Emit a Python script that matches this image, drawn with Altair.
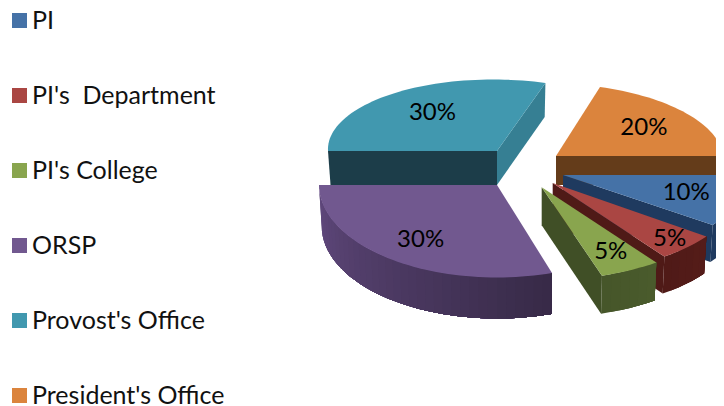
import math
import altair as alt

# ---- data ----
categories = ["PI", "PI's \u00a0Department", "PI's College", "ORSP", "Provost's Office", "President's Office"]
shares = [10, 5, 5, 30, 30, 20]
top_colors = ["#4572A7", "#AA4643", "#89A54E", "#71588F", "#4198AF", "#DB843D"]

# ---- 3-D look of each slice (page pixels): exploded apex, radii, shear, wall height ----
apex_x = [563, 552.7, 541.7, 497, 497, 556]
apex_y = [175, 183, 187.3, 185, 151, 156]
radius_x = [185, 190, 195, 178, 169, 167]
radius_y = [85, 91, 93, 92.5, 71.5, 72.5]
shear = [0, 0, 0, 0, 4, 8]
depth = [37, 37, 38, 41, 34, 29]
label_frac = [0.70, 0.87, 0.78, 0.73, 0.65, 0.65]
outer_from = ["#1f3a5f", "#4f1a17", "#46562a", "#61497e", "#1e3f4b", "#643c1a"]
outer_to = ["#1c3557", "#551c19", "#4a5b2c", "#372a47", "#1e3f4b", "#643c1a"]
cut_start = [None, None, None, None, "#1c3d49", None]
cut_end = ["#1f3a5f", "#4f1a17", "#404f26", None, "#367f93", "#643c1a"]
draw_order = [4, 5, 3, 0, 1, 2]
shrink = 0.985
ORIGIN_X, ORIGIN_Y = 8, 8
W, H = 708, 398
FONT = "Lato"


def mix(a, b, f):
    pa = [int(a[i:i + 2], 16) for i in (1, 3, 5)]
    pb = [int(b[i:i + 2], 16) for i in (1, 3, 5)]
    return "#%02x%02x%02x" % tuple(round(x + (y - x) * f) for x, y in zip(pa, pb))


# slice angles come from the shares, clockwise from 3 o'clock
starts, ends = [], []
acc = 0.0
for s in shares:
    starts.append(acc)
    acc += s * 3.6
    ends.append(acc)


def rim(i, deg, bottom=False):
    t = math.radians(deg)
    dx = radius_x[i] * math.cos(t) + shear[i] * math.sin(t)
    dy = radius_y[i] * math.sin(t)
    if bottom:
        return [apex_x[i] + dx * shrink, apex_y[i] + dy + depth[i]]
    return [apex_x[i] + dx, apex_y[i] + dy]


def feature(ring, **props):
    ring = ring + [ring[0]]
    return {"type": "Feature", "properties": props,
            "geometry": {"type": "Polygon", "coordinates": [ring]}}


def apex(i, bottom=False):
    return [apex_x[i], apex_y[i] + (depth[i] if bottom else 0)]


def wall_features(i):
    out = []
    if ends[i] <= 180:
        # shaded outer wall: each step is drawn from the wall's far end, overlapping the last
        n = max(2, int((ends[i] - starts[i]) / 3))
        for k in range(n):
            a = ends[i] - (ends[i] - starts[i]) * k / n
            arc = [a - (a - starts[i]) * j / (n - k) for j in range(n - k + 1)]
            col = mix(outer_from[i], outer_to[i], (k + 0.5) / n)
            out.append(feature([rim(i, d) for d in arc] + [rim(i, d, True) for d in reversed(arc)], fill=col))
    for deg, col in ((starts[i], cut_start[i]), (ends[i], cut_end[i])):
        if col:
            out.append(feature([apex(i), rim(i, deg), rim(i, deg, True), apex(i, True)], fill=col))
    return out


def top_feature(i):
    n = max(4, int((ends[i] - starts[i]) / 2))
    ring = [apex(i)] + [rim(i, starts[i] + (ends[i] - starts[i]) * k / n) for k in range(n + 1)]
    return feature(ring, cat=categories[i])


color_scale = alt.Scale(domain=categories, range=top_colors)
legend = alt.Legend(
    title=None, orient="none", legendX=-1, legendY=0, padding=0,
    symbolType="square", symbolSize=225, symbolStrokeWidth=0, labelOffset=0,
    labelFont=FONT, labelFontSize=25, labelColor="#111111", labelLimit=300,
    rowPadding=49, values=categories,
)


def collection(features):
    return alt.InlineData(values={"type": "FeatureCollection", "features": features},
                          format=alt.DataFormat(type="json", property="features"))


layers = []
for i in draw_order:
    layers.append(
        alt.Chart(collection(wall_features(i)))
        .mark_geoshape(strokeWidth=0)
        .encode(fill=alt.Fill("properties.fill:N", scale=None, legend=None))
        .project(type="identity", scale=1, translate=[-ORIGIN_X, -ORIGIN_Y])
    )
    layers.append(
        alt.Chart(collection([top_feature(i)]))
        .mark_geoshape(strokeWidth=0)
        .encode(color=alt.Color("properties.cat:N", scale=color_scale, legend=legend, sort=categories))
        .project(type="identity", scale=1, translate=[-ORIGIN_X, -ORIGIN_Y])
    )

label_rows = []
for i in range(len(categories)):
    mid = math.radians((starts[i] + ends[i]) / 2)
    label_rows.append({
        "px": apex_x[i] + label_frac[i] * radius_x[i] * math.cos(mid) - ORIGIN_X,
        "py": apex_y[i] + label_frac[i] * radius_y[i] * math.sin(mid) - ORIGIN_Y,
        "label": f"{shares[i]}%",
    })

labels = (
    alt.Chart(alt.Data(values=label_rows))
    .mark_text(font=FONT, fontSize=24, color="#000000", align="center", baseline="middle")
    .encode(x=alt.X("px:Q", scale=None, axis=None), y=alt.Y("py:Q", scale=None, axis=None), text="label:N")
)

chart = (
    alt.layer(*layers, labels)
    .properties(width=W, height=H, padding=0, background="#ffffff",
                autosize=alt.AutoSizeParams(type="none", contains="padding"))
    .configure_view(stroke=None)
)

chart.save("out.html", embed_options={"renderer": "svg", "actions": False})
